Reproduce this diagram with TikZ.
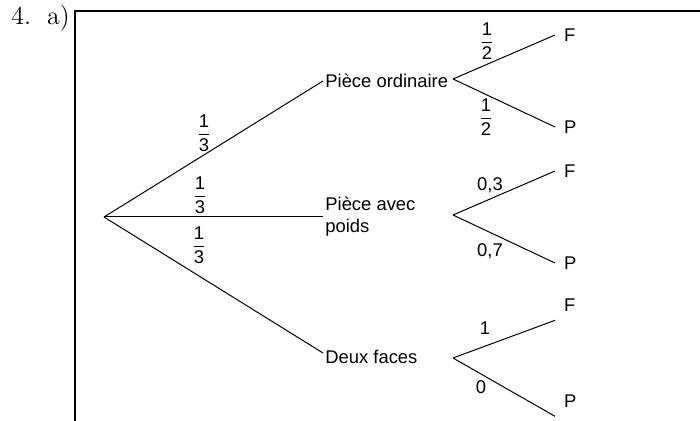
\documentclass[tikz,border=0pt]{standalone}
\usepackage{fontspec}
\usepackage{amsmath}
\setsansfont{Liberation Sans}
\usetikzlibrary{positioning}
\newcommand{\frc}[2]{$\dfrac{\text{#1}}{\text{#2}}$}

\begin{document}
\begin{tikzpicture}[x=0.5pt, y=-0.5pt,
  txt/.style={font=\sffamily\fontsize{9.2}{11}\selectfont, inner sep=1pt},
  leaf/.style={txt, anchor=west, outer sep=3.5pt},
  branch/.style={line width=0.5pt}]
  \useasboundingbox (0,0) rectangle (700,421);
  \node[anchor=base west, inner sep=0pt, font=\fontsize{13}{15}\selectfont] (num) at (11,25) {4.\hspace{8pt}a)};
  \draw[line width=1pt] (75,421) -- (75,11) -- (700,11);
  \draw
    (104,217) coordinate (root)
    (323,81) node[txt, anchor=west] (ord){Pièce ordinaire}
    (323,217) node[txt, anchor=west, align=left] (poids){Pièce avec\\poids}
    (323,357) node[txt, anchor=west] (deux){Deux faces}
    (453,79) coordinate (s1)
    (453,215) coordinate (s2)
    (453,358) coordinate (s3)
    (555,35) node[leaf] (f1){F}
    (555,127) node[leaf] (p1){P}
    (555,171) node[leaf] (f2){F}
    (555,263) node[leaf] (p2){P}
    (555,305) node[leaf] (f3){F}
    (555,401) node[leaf] (p3){P}
    (204,133) node[txt] (t1){\frc{1}{3}}
    (200,195) node[txt] (t2){\frc{1}{3}}
    (199,245) node[txt] (t3){\frc{1}{3}}
    (487,41) node[txt] (h1){\frc{1}{2}}
    (486,117) node[txt] (h2){\frc{1}{2}}
    (490,185) node[txt] (w1){0,3}
    (490,251) node[txt] (w2){0,7}
    (485,328) node[txt] (d1){1}
    (481,387) node[txt] (d2){0};
  \begin{scope}[branch]
    \draw (root) to (ord.west);
    \draw (root) to (poids.west);
    \draw (root) to ([yshift=2pt]deux.west);
    \draw (s1) to (f1.west);
    \draw (s1) to (p1.west);
    \draw (s2) to (f2.west);
    \draw (s2) to (p2.west);
    \draw (s3) to (f3.south west);
    \draw (s3) to (p3.south west);
  \end{scope}
\end{tikzpicture}
\end{document}
